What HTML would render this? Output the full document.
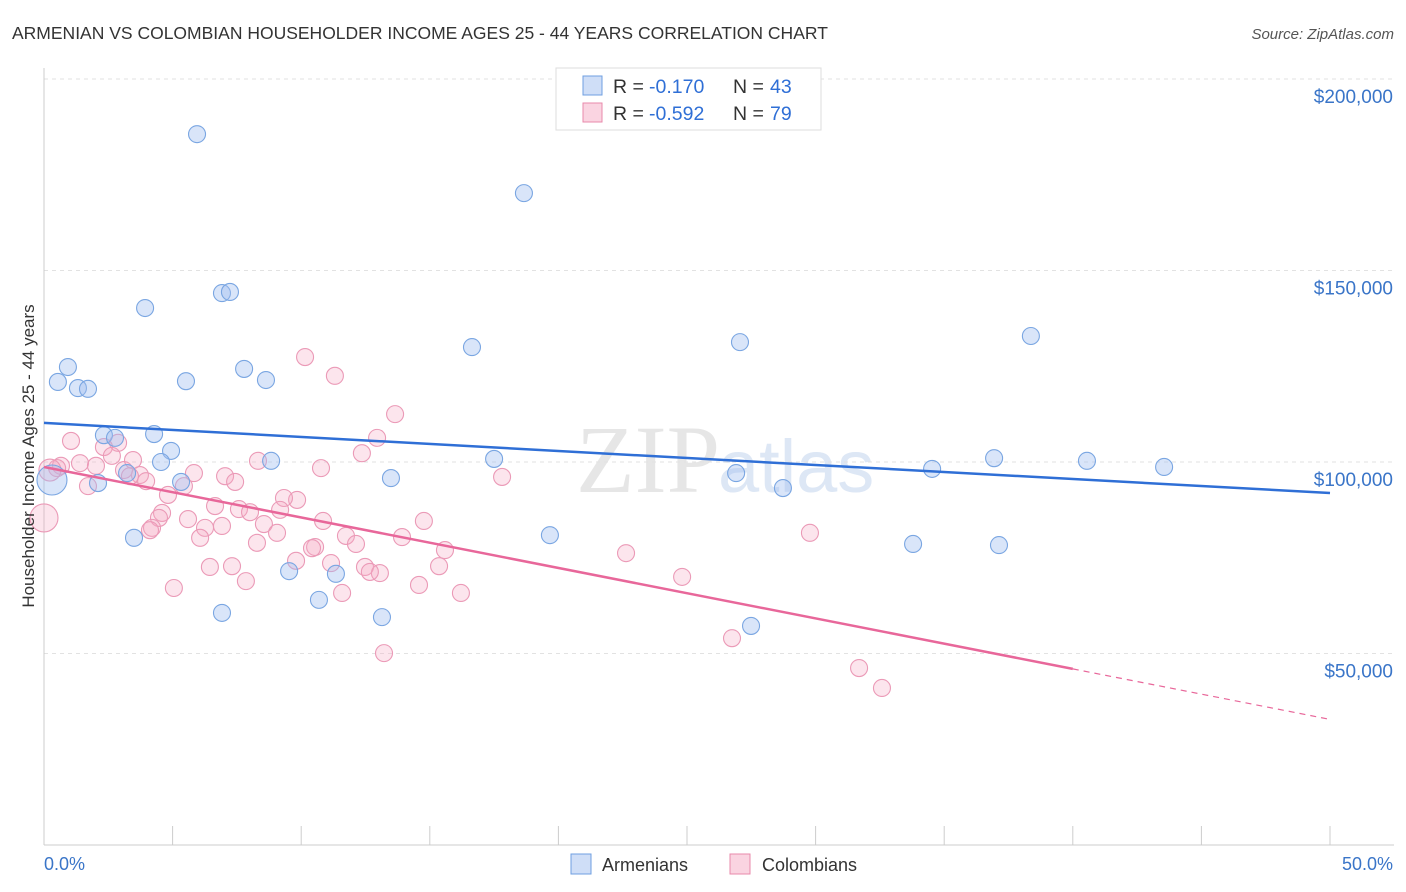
<!DOCTYPE html>
<html><head><meta charset="utf-8"><style>
body{margin:0;background:#fff;font-family:"Liberation Sans",sans-serif}
svg{display:block}
</style></head><body>
<svg id="chart" width="1406" height="892" viewBox="0 0 1406 892" xmlns="http://www.w3.org/2000/svg">
<text x="12" y="39" font-size="17.5" fill="#333">ARMENIAN VS COLOMBIAN HOUSEHOLDER INCOME AGES 25 - 44 YEARS CORRELATION CHART</text>
<text x="1394" y="39" font-size="15" fill="#555" text-anchor="end" font-style="italic">Source: ZipAtlas.com</text>
<text x="720" y="492" font-size="96" fill="#e6e6e6" text-anchor="end" font-family="Liberation Serif">ZIP</text>
<text x="718" y="492" font-size="74" fill="#dde7f5">atlas</text>
<g id="grid"></g>
<g id="axes"></g>
<g id="marks"></g>
<text transform="translate(34,456) rotate(-90)" font-size="17" fill="#333" text-anchor="middle">Householder Income Ages 25 - 44 years</text>
<g>
<rect x="556" y="68" width="265" height="62" fill="#fff" stroke="#ddd"/>
<rect x="583" y="76" width="19" height="19" fill="rgba(160,190,240,0.5)" stroke="#6f9fe0"/>
<rect x="583" y="103" width="19" height="19" fill="rgba(245,170,195,0.5)" stroke="#e88aab"/>
<text x="613" y="93" font-size="19.5" fill="#333">R = </text>
<text x="649" y="93" font-size="19.5" fill="#2f6fd6">-0.170</text>
<text x="733" y="93" font-size="19.5" fill="#333">N = </text>
<text x="770" y="93" font-size="19.5" fill="#2f6fd6">43</text>
<text x="613" y="120" font-size="19.5" fill="#333">R = </text>
<text x="649" y="120" font-size="19.5" fill="#2f6fd6">-0.592</text>
<text x="733" y="120" font-size="19.5" fill="#333">N = </text>
<text x="770" y="120" font-size="19.5" fill="#2f6fd6">79</text>
</g>
<g>
<rect x="571" y="854" width="20" height="20" fill="rgba(160,190,240,0.5)" stroke="#6f9fe0"/>
<text x="602" y="871" font-size="18" fill="#333">Armenians</text>
<rect x="730" y="854" width="20" height="20" fill="rgba(245,170,195,0.5)" stroke="#e88aab"/>
<text x="762" y="871" font-size="18" fill="#333">Colombians</text>
</g>
</svg>
<script>
const yTicks=[50000,100000,150000,200000];
const yTickLabels=["$50,000","$100,000","$150,000","$200,000"];
const armX=[5.95,18.66,6.92,7.23,3.93,16.64,27.06,38.37,0.93,0.54,1.32,1.71,5.52,7.78,8.63,4.28,2.33,2.76,4.94,4.55,8.83,17.5,3.23,2.1,5.33,13.49,26.91,28.73,34.53,36.94,40.55,43.55,0.31,3.5,19.67,33.79,37.13,9.53,11.35,10.69,6.92,13.14,27.49];
const armY=[185600,170200,144100,144400,140200,130000,131300,132900,124800,120900,119300,119100,121100,124300,121400,107300,107000,106300,102900,100000,100300,100800,97100,94500,94800,95800,97100,93200,98200,101000,100300,98700,95300,80200,80900,78600,78300,71500,70800,64000,60600,59500,57200];
const colX=[10.15,11.31,13.65,1.05,2.88,2.33,12.95,12.36,0.66,1.4,2.02,3.11,0.51,2.64,3.46,3.73,3.34,3.97,1.71,5.44,5.83,7.04,7.43,8.32,10.77,17.81,4.82,9.84,9.33,6.65,7.58,8.01,9.18,4.59,5.6,4.47,4.2,6.92,8.55,6.26,10.85,14.77,4.12,6.07,8.28,9.06,11.74,13.92,12.13,10.54,15.59,9.8,10.42,11.16,12.48,15.36,13.06,12.67,6.45,7.31,22.63,24.81,29.78,5.05,7.85,14.58,16.21,11.59,13.22,26.75,31.69,32.58,0,0.23];
const colY=[127400,122500,112500,105500,105000,103900,106300,102300,99000,99700,99000,97900,98400,101600,100500,96600,96300,95000,93700,93700,97100,96300,94800,100300,98400,96100,91400,90100,90600,88500,87700,86900,87500,86700,85100,85400,82800,83300,83800,82800,84600,84600,82200,80200,78900,81500,80700,80400,78600,77800,77000,74200,77500,73600,72600,72800,71000,71300,72600,72800,76200,70000,81500,67100,68900,67900,65800,65800,50100,54000,46200,41000,85400,97900];
const armTrend=[110200,91900];
const colTrend=[98700,32800];
const NS="http://www.w3.org/2000/svg";
const X=p=>44+p*25.72;
const Y=v=>462-(v-100000)*191.5/50000;
function mk(t,a,parent){const e=document.createElementNS(NS,t);for(const k in a)e.setAttribute(k,a[k]);document.getElementById(parent).appendChild(e);return e;}
yTicks.forEach((v,i)=>{
 const g=mk('line',{x1:44,x2:1394,y1:Y(v),y2:Y(v),stroke:'#e2e2e2','stroke-dasharray':'4,4'},'grid');
 
 
 const t=mk('text',{x:1393,y:Y(v)+24,'font-size':19,fill:'#3a75c8','text-anchor':'end'},'axes');
 t.textContent=yTickLabels[i];
 
 
});
const ax=mk('line',{x1:44,x2:44,y1:68,y2:845,stroke:'#ccc'},'axes');


const bx=mk('line',{x1:44,x2:1394,y1:845,y2:845,stroke:'#ccc'},'axes');


for(let i=0;i<=10;i++){const t=mk('line',{x1:X(i*5),x2:X(i*5),y1:826,y2:845,stroke:'#ccc'},'axes');
 
 }
const l0=mk('text',{x:44,y:870,'font-size':18,fill:'#3a75c8'},'axes');l0.textContent='0.0%';


const l1=mk('text',{x:1393,y:870,'font-size':18,fill:'#3a75c8','text-anchor':'end'},'axes');l1.textContent='50.0%';


colX.forEach((x,i)=>{const c=mk('circle',{cx:X(x),cy:Y(colY[i]),r:(i>=colX.length-2)?(i==colX.length-2?14:11):8.5,fill:'rgba(245,170,195,0.3)',stroke:'#eb9ab7','stroke-width':1.1},'marks');
 
 });
armX.forEach((x,i)=>{const c=mk('circle',{cx:X(x),cy:Y(armY[i]),r:i==32?15:8.5,fill:'rgba(160,190,240,0.4)',stroke:'#7aa6e2','stroke-width':1.1},'marks');
 
 });
const bt=mk('line',{x1:X(0),y1:Y(armTrend[0]),x2:X(50),y2:Y(armTrend[1]),stroke:'#2f6fd6','stroke-width':2.5},'marks');


const yAt40=colTrend[0]+(colTrend[1]-colTrend[0])*0.8;
const pt=mk('line',{x1:X(0),y1:Y(colTrend[0]),x2:X(40),y2:Y(yAt40),stroke:'#e8679a','stroke-width':2.5},'marks');


const pd=mk('line',{x1:X(40),y1:Y(yAt40),x2:X(50),y2:Y(colTrend[1]),stroke:'#e8679a','stroke-width':1.2,'stroke-dasharray':'6,5'},'marks');


</script>
</body></html>
